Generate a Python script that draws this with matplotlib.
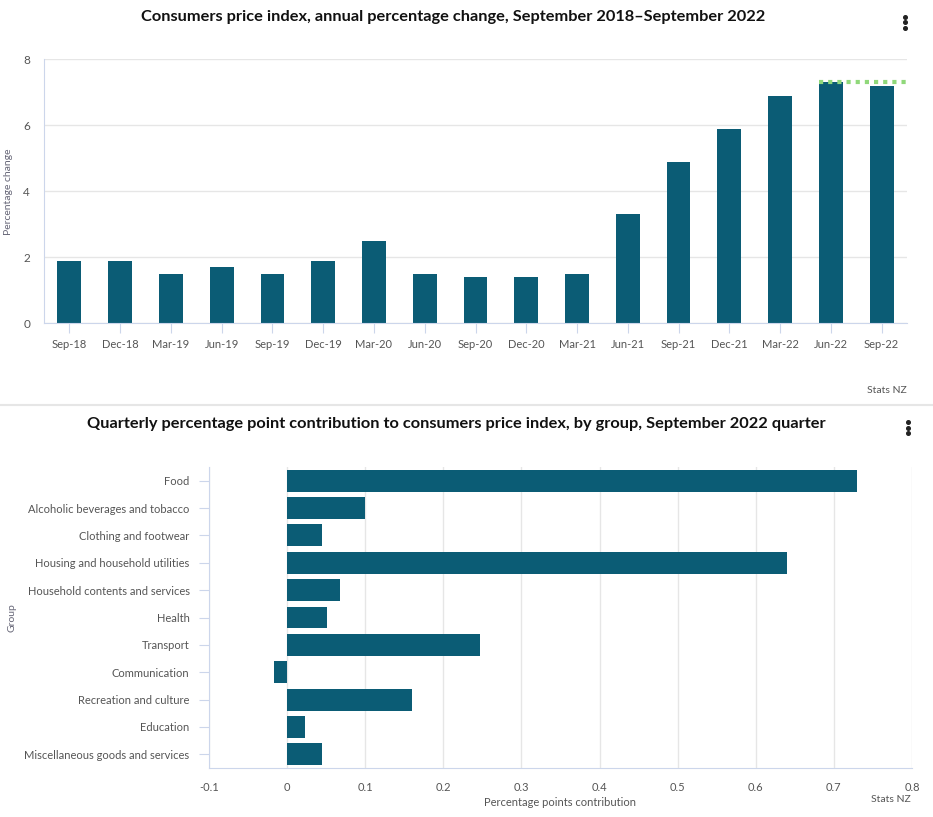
import matplotlib
matplotlib.use("Agg")
import matplotlib.pyplot as plt
from matplotlib.lines import Line2D
from matplotlib.ticker import FuncFormatter

# ---------------- data ----------------
quarters = ["Sep-18", "Dec-18", "Mar-19", "Jun-19", "Sep-19", "Dec-19", "Mar-20", "Jun-20",
            "Sep-20", "Dec-20", "Mar-21", "Jun-21", "Sep-21", "Dec-21", "Mar-22", "Jun-22", "Sep-22"]
cpi_annual = [1.9, 1.9, 1.5, 1.7, 1.5, 1.9, 2.5, 1.5, 1.4, 1.4, 1.5, 3.3, 4.9, 5.9, 6.9, 7.3, 7.2]
peak_value = 7.3
peak_quarter = "Jun-22"
cpi_yticks = [0, 2, 4, 6, 8]

groups = ["Food", "Alcoholic beverages and tobacco", "Clothing and footwear",
          "Housing and household utilities", "Household contents and services", "Health",
          "Transport", "Communication", "Recreation and culture", "Education",
          "Miscellaneous goods and services"]
contributions = [0.73, 0.10, 0.045, 0.64, 0.068, 0.051, 0.247, -0.017, 0.16, 0.023, 0.045]
contrib_xticks = [-0.1, 0, 0.1, 0.2, 0.3, 0.4, 0.5, 0.6, 0.7, 0.8]

title_top = "Consumers price index, annual percentage change, September 2018\u2013September 2022"
title_bottom = ("Quarterly percentage point contribution to consumers price index, by group, "
                "September 2022 quarter")

# ---------------- style ----------------
plt.rcParams['font.family'] = ['Lato', 'DejaVu Sans']
BAR = '#0b5c75'
GRID = '#e6e6e6'
AXIS = '#ccd6eb'
LABEL = '#555555'
PEAK = '#90d87a'

W, H = 933, 817
fig = plt.figure(figsize=(W / 100, H / 100), dpi=100)


def rect(l, t, r, b):
    return [l / W, 1 - b / H, (r - l) / W, (b - t) / H]


# ---------------- top chart ----------------
L1, T1, R1, B1 = 44, 59.3, 907, 323.3
ax1 = fig.add_axes(rect(L1, T1, R1, B1))
x = list(range(len(quarters)))
ax1.bar(x, cpi_annual, width=0.47, color=BAR, zorder=2)
pk = quarters.index(peak_quarter)
ax1.plot([pk - 0.235, len(quarters) - 0.5], [peak_value, peak_value], color=PEAK,
         linestyle=(0, (1, 1.2)), linewidth=3, zorder=3, solid_capstyle='butt')
ax1.set_xlim(-0.5, len(quarters) - 0.5)
ax1.set_ylim(0, 8)
ax1.set_yticks(cpi_yticks)
ax1.set_xticks(x)
ax1.set_xticklabels(quarters)
ax1.yaxis.grid(True, color=GRID, linewidth=1)
ax1.set_axisbelow(True)
for s in ['top', 'right']:
    ax1.spines[s].set_visible(False)
for s in ['left', 'bottom']:
    ax1.spines[s].set_color(AXIS)
ax1.tick_params(axis='x', length=7, color=AXIS, labelsize=8, labelcolor=LABEL, pad=4)
ax1.tick_params(axis='y', length=0, labelsize=8.5, labelcolor=LABEL, pad=10)
ax1.set_ylabel("Percentage change", fontsize=7.5, color='#666677')
ax1.yaxis.set_label_coords((13 - L1) / (R1 - L1), 0.5)

fig.text(453 / W, 1 - 17 / H, title_top, ha='center', va='center', fontsize=11.8,
         fontweight='bold', color='#111111')
fig.text(907 / W, 1 - 391 / H, "Stats NZ", ha='right', va='center', fontsize=7.5, color=LABEL)

# separator
fig.add_artist(Line2D([0, 1], [1 - 405 / H] * 2, color=GRID, linewidth=1.5,
                      transform=fig.transFigure))

# ---------------- bottom chart ----------------
L2, T2, R2, B2 = 209, 467, 912, 768
ax2 = fig.add_axes(rect(L2, T2, R2, B2))
y = list(range(len(groups)))
ax2.barh(y, contributions, height=0.8, color=BAR, zorder=2)
ax2.set_ylim(len(groups) - 0.5, -0.5)
ax2.set_xlim(-0.1, 0.8)
ax2.set_xticks(contrib_xticks)
ax2.xaxis.set_major_formatter(FuncFormatter(lambda v, p: ('%g' % round(v, 2))))
ax2.set_yticks(y)
ax2.set_yticklabels(groups)
for lab in ax2.get_yticklabels():
    lab.set_va('center_baseline')
ax2.xaxis.grid(True, color=GRID, linewidth=1)
ax2.set_axisbelow(True)
for s in ['top', 'right']:
    ax2.spines[s].set_visible(False)
for s in ['left', 'bottom']:
    ax2.spines[s].set_color(AXIS)
ax2.tick_params(axis='y', length=7, color=AXIS, labelsize=8, labelcolor=LABEL, pad=7)
ax2.tick_params(axis='x', length=0, labelsize=8, labelcolor=LABEL, pad=10)
ax2.set_xlabel("Percentage points contribution", fontsize=8, color=LABEL, labelpad=3)
ax2.set_ylabel("Group", fontsize=7.5, color='#666677')
ax2.yaxis.set_label_coords((16 - L2) / (R2 - L2), 0.5)

fig.text(456 / W, 1 - 424 / H, title_bottom, ha='center', va='center', fontsize=11.8,
         fontweight='bold', color='#111111')
fig.text(911 / W, 1 - 799 / H, "Stats NZ", ha='right', va='center', fontsize=7.5, color=LABEL)

# menu dots
for cx, cy in [(905, 22), (908, 428)]:
    fig.add_artist(Line2D([cx / W] * 3, [1 - (cy - 5.5) / H, 1 - cy / H, 1 - (cy + 5.5) / H],
                          marker='o', linestyle='none', markersize=2.6, color='#222222',
                          transform=fig.transFigure))

fig.savefig("out.png", dpi=100)
